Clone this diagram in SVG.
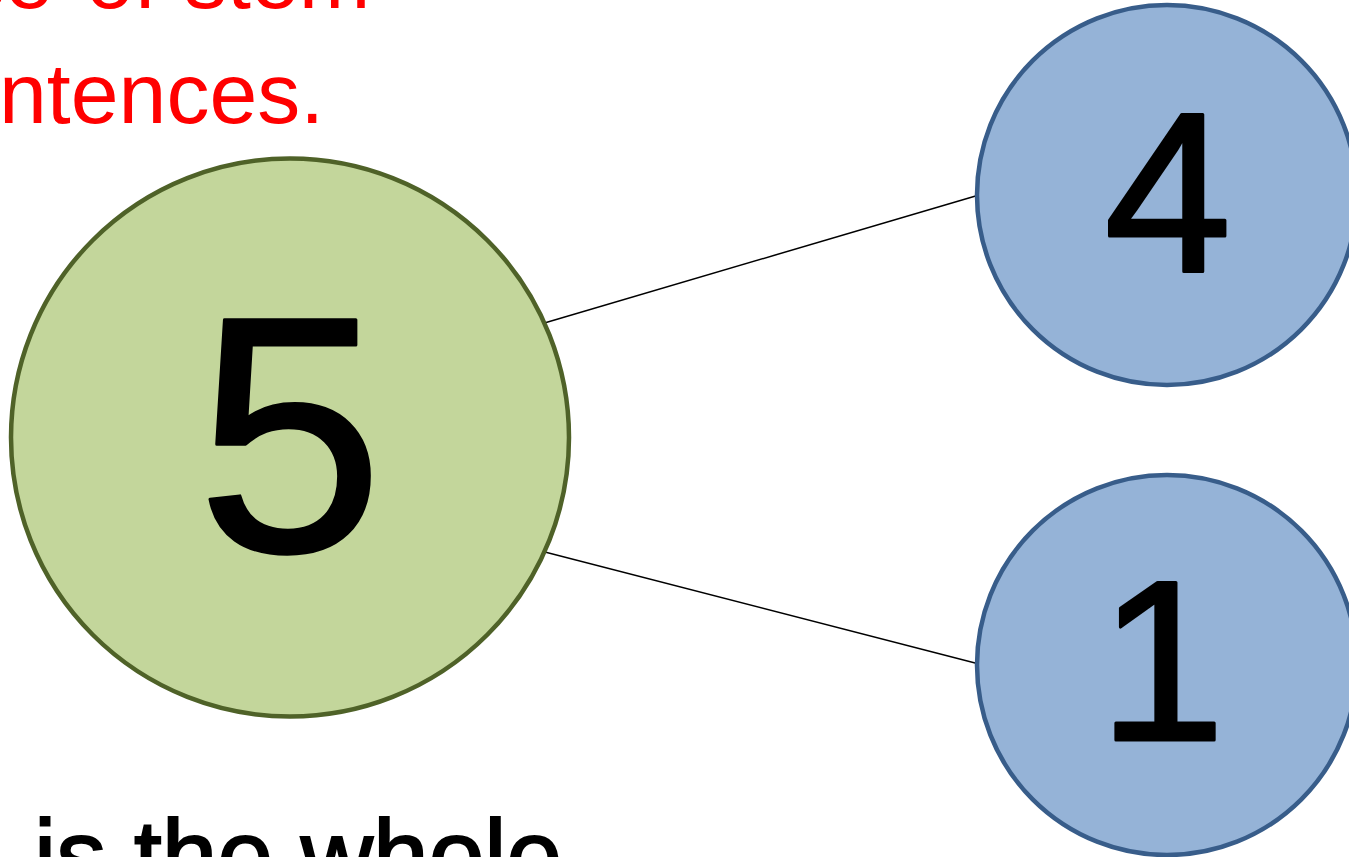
<svg xmlns="http://www.w3.org/2000/svg" width="1349" height="857" viewBox="0 0 1349 857">
  <style>
    .red { font-family: "Liberation Sans", Arial, sans-serif; font-size: 86px; fill: #FF0000; }
    .body { font-family: "Liberation Sans", Arial, sans-serif; font-size: 100px; fill: #000000; stroke: #000000; stroke-width: 2; }
    .digit { font-family: "Liberation Sans", Arial, sans-serif; fill: #000000; stroke: #000000; stroke-width: 3; stroke-linejoin: round; text-anchor: middle; }
    .whole { fill: #C3D69B; stroke: #4F6228; stroke-width: 4.5; }
    .part { fill: #95B3D7; stroke: #385D8A; stroke-width: 4.5; }
    .link { stroke: #000000; stroke-width: 1.5; fill: none; }
  </style>
  <rect width="1349" height="857" fill="#FFFFFF"/>

  <!-- instruction text (red) -->
  <text class="red" y="8"><tspan x="-38">se</tspan><tspan x="86">of</tspan><tspan x="184">stem</tspan></text>
  <text class="red" x="-1" y="123">ntences.</text>

  <!-- connectors -->
  <g id="connectors">
    <line class="link" x1="541" y1="324" x2="979" y2="195"/>
    <line class="link" x1="541" y1="551" x2="979" y2="664"/>
  </g>

  <!-- whole -->
  <g id="node-whole">
    <circle class="whole" cx="290" cy="437.5" r="279"/>
    <text class="digit" x="290" y="551" font-size="336">5</text>
  </g>

  <!-- parts -->
  <g id="node-part-4">
    <circle class="part" cx="1167" cy="195" r="190"/>
    <text class="digit" x="1168" y="272" font-size="229">4</text>
  </g>
  <g id="node-part-1">
    <circle class="part" cx="1167" cy="665" r="190"/>
    <text class="digit" x="1162" y="740" font-size="228">1</text>
  </g>

  <!-- caption -->
  <text class="body" x="34" y="890">is the whole</text>
</svg>
